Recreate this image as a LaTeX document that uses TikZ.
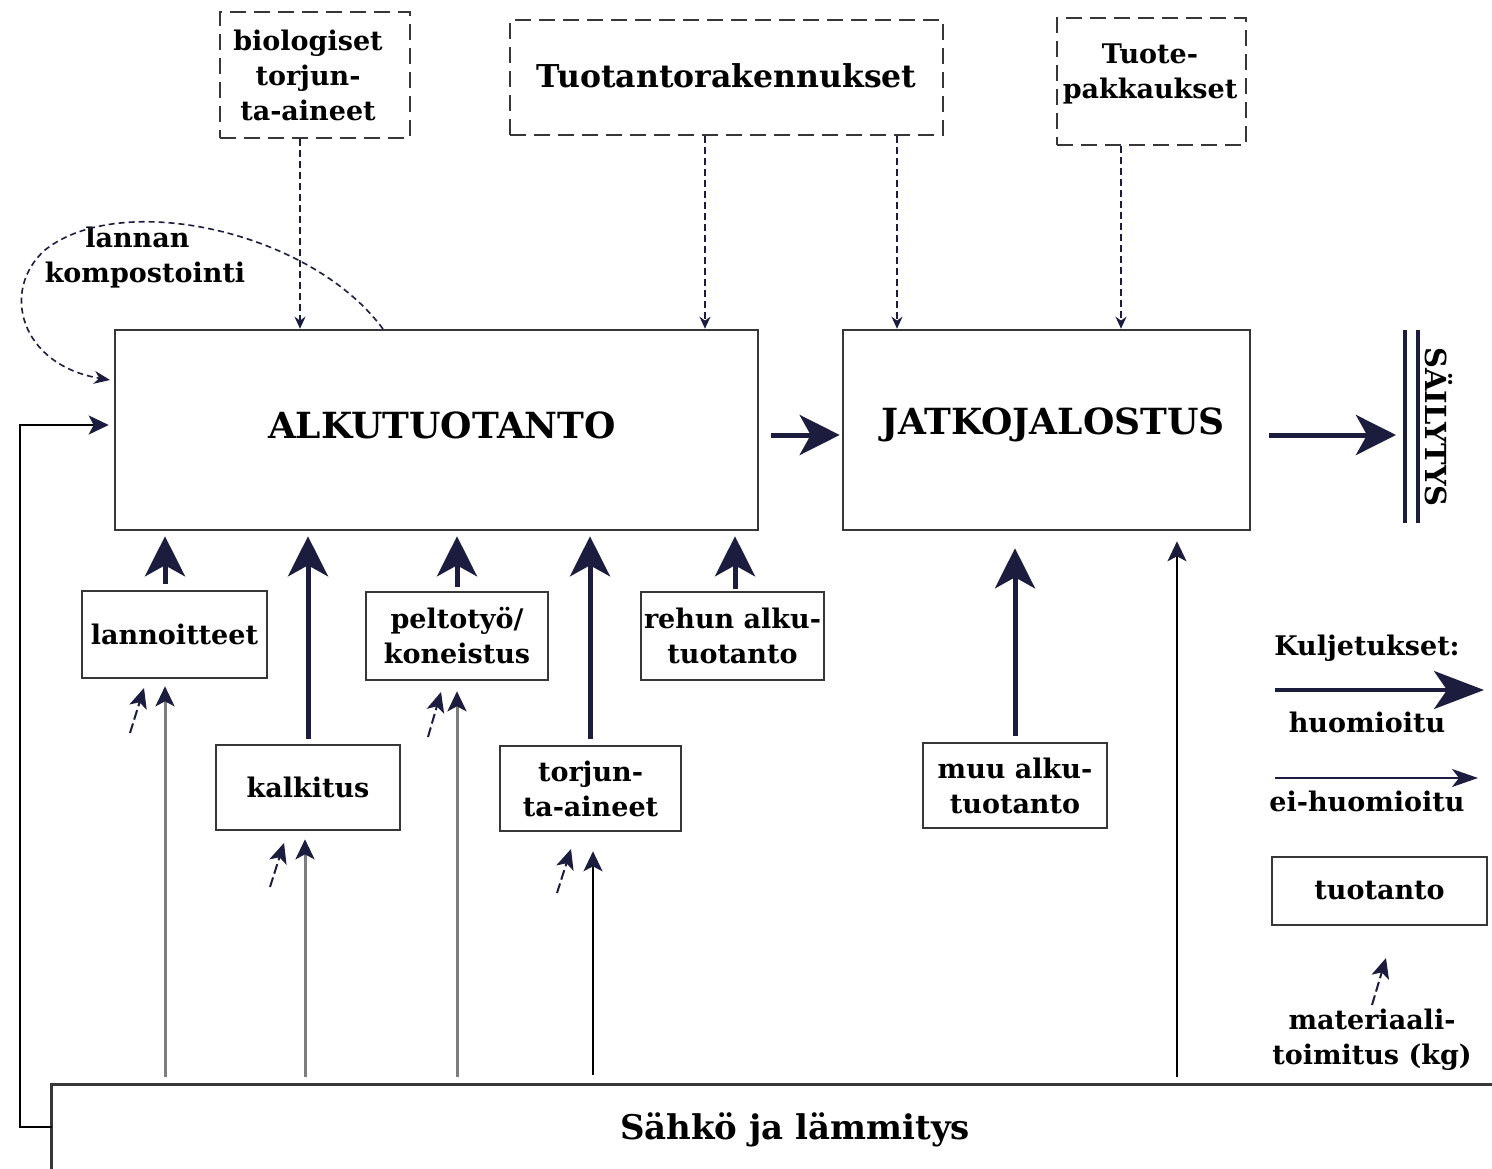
\documentclass[tikz,border=0pt]{standalone}
\usepackage{fontspec}
\setmainfont{DejaVu Serif}
\usetikzlibrary{arrows.meta,calc}
\definecolor{navy}{RGB}{28,28,62}
\definecolor{lgray}{RGB}{125,125,125}
\definecolor{bord}{RGB}{55,55,55}
\begin{document}
\begin{tikzpicture}[x=1pt,y=-1pt,
  lbl/.style={font=\fontsize{27}{35}\selectfont\bfseries, align=center, inner sep=0pt, text=black},
  biglbl/.style={font=\fontsize{36}{40}\selectfont\bfseries, inner sep=0pt},
  box/.style={draw=bord, line width=2.6pt, lbl},
  dbox/.style={box, dash pattern=on 16pt off 8pt},
  bigarrow/.style={navy, line width=5pt, -{Stealth[length=40pt,width=40pt,inset=11pt]}},
  thinarrow/.style={lgray, line width=3pt, -{Stealth[length=20pt,width=19pt,inset=5pt,color=navy]}},
  blackarrow/.style={black, line width=2.2pt, -{Stealth[length=20pt,width=19pt,inset=5pt,color=navy]}},
  dasharrow/.style={navy, line width=2pt, dash pattern=on 7pt off 4pt, -{Stealth[length=12pt,width=11pt]}},
  matarrow/.style={navy, line width=2pt, dash pattern=on 10pt off 4pt, -{Stealth[length=20pt,width=18pt,inset=5pt]}},
]
\useasboundingbox (0,0) rectangle (1492,1169);

% top dashed boxes
\node[dbox, minimum width=190pt, minimum height=126pt] (bio) at (315,75) {};
\node[lbl] (biotxt) at (308,75) {biologiset\\torjun-\\ta-aineet};
\node[dbox, minimum width=433pt, minimum height=115pt, font=\fontsize{31.5}{35}\selectfont\bfseries] (tuot) at (726.5,77.5) {\raisebox{4pt}{Tuotantorakennukset}};
\node[dbox, minimum width=189pt, minimum height=127pt] (pakk) at (1151.5,81.5) {};
\node[lbl] (pakktxt) at (1150,73.5) {Tuote-\\pakkaukset};

% main boxes
\node[box, minimum width=643pt, minimum height=200pt] (alku) at (436.5,430) {};
\node[biglbl] (alkutxt) at (442,425) {ALKUTUOTANTO};
\node[box, minimum width=407pt, minimum height=200pt] (jatko) at (1046.5,430) {};
\node[biglbl] (jatkotxt) at (1053,425) {JATKOJALOSTUS};

% sailytys
\node[font=\fontsize{29}{34}\selectfont\bfseries, rotate=-90, inner sep=0pt] (sail) at (1439,427) {SÄILYTYS};
\coordinate (bar1t) at (1405,330); \coordinate (bar1b) at (1405,523);
\coordinate (bar2t) at (1418,330); \coordinate (bar2b) at (1418,523);
\draw[navy, line width=3.5pt] (bar1t) -- (bar1b);
\draw[navy, line width=3.5pt] (bar2t) -- (bar2b);
\coordinate (sailin) at (1400,435);

% lower boxes
\node[box, minimum width=185pt, minimum height=87pt] (lann) at (174.5,634.5) {lannoitteet};
\node[box, minimum width=184pt, minimum height=85pt] (kalk) at (308,787.5) {kalkitus};
\node[box, minimum width=182pt, minimum height=88pt] (pelto) at (457,636) {peltotyö/\\koneistus};
\node[box, minimum width=181pt, minimum height=85pt] (torj) at (590.5,788.5) {torjun-\\ta-aineet};
\node[box, minimum width=183pt, minimum height=88pt] (rehu) at (732.5,636) {rehun alku-\\tuotanto};
\node[box, minimum width=184pt, minimum height=85pt] (muu) at (1015,785.5) {muu alku-\\tuotanto};

% Sahko box
\node[minimum width=1440pt, minimum height=84pt, inner sep=0pt] (sahko) at (772,1127) {};
\draw[bord, line width=2.8pt] (sahko.north east) -- (sahko.north west) -- (sahko.south west);
\node[font=\fontsize{34}{38}\selectfont\bfseries, inner sep=0pt] (sahkotxt) at (795,1130) {Sähkö ja lämmitys};

% dashed arrows from top
\coordinate (d1) at (300,0); \coordinate (d2) at (705,0); \coordinate (d3) at (897,0); \coordinate (d4) at (1121,0);
\draw[dasharrow] (bio.south -| d1) -- (d1 |- alku.north);
\draw[dasharrow] (tuot.south -| d2) -- (d2 |- alku.north);
\draw[dasharrow] (tuot.south -| d3) -- (d3 |- jatko.north);
\draw[dasharrow] (pakk.south -| d4) -- (d4 |- jatko.north);

% lannan kompostointi
\node[lbl, align=left] (komp) at (145,258) {\hspace*{1.5em}lannan\\kompostointi};
\coordinate (kstart) at (383,329);
\draw[navy, line width=1.6pt, dash pattern=on 6pt off 4pt, -{Stealth[length=16pt,width=13pt]}]
  (kstart) .. controls (310,230) and (120,190) .. (45,250)
  .. controls (0,290) and (20,365) .. (110,380);

% main flow arrows
\draw[bigarrow, shorten <=12pt, shorten >=2pt] ($(alku.east)+(0,5)$) -- ($(jatko.west)+(0,5)$);
\draw[bigarrow, shorten <=18pt, shorten >=4pt] ($(jatko.east)+(0,5)$) -- (sailin);

% thick arrows up
\coordinate (u1) at (165,0); \coordinate (u2) at (308,0); \coordinate (u3) at (457,0);
\coordinate (u4) at (590,0); \coordinate (u5) at (735,0); \coordinate (u6) at (1015,0);
\draw[bigarrow, shorten <=6pt, shorten >=5pt] (lann.north -| u1) -- (u1 |- alku.south);
\draw[bigarrow, shorten <=5pt, shorten >=5pt] (kalk.north -| u2) -- (u2 |- alku.south);
\draw[bigarrow, shorten <=4pt, shorten >=5pt] (pelto.north -| u3) -- (u3 |- alku.south);
\draw[bigarrow, shorten <=6pt, shorten >=5pt] (torj.north -| u4) -- (u4 |- alku.south);
\draw[bigarrow, shorten <=2pt, shorten >=5pt] (rehu.north -| u5) -- (u5 |- alku.south);
\draw[bigarrow, shorten <=6pt, shorten >=17pt] (muu.north -| u6) -- (u6 |- jatko.south);

% thin arrows from Sahko
\coordinate (t1) at (165,0); \coordinate (t2) at (305,0); \coordinate (t3) at (457,0);
\coordinate (t4) at (593,0); \coordinate (t5) at (1177,0);
\draw[thinarrow, shorten <=8pt, shorten >=7pt] (sahko.north -| t1) -- (t1 |- lann.south);
\draw[thinarrow, shorten <=8pt, shorten >=8pt] (sahko.north -| t2) -- (t2 |- kalk.south);
\draw[thinarrow, shorten <=8pt, shorten >=10pt] (sahko.north -| t3) -- (t3 |- pelto.south);
\draw[blackarrow, shorten <=10pt, shorten >=19pt] (sahko.north -| t4) -- (t4 |- torj.south);
\draw[blackarrow, shorten <=8pt, shorten >=10pt] (sahko.north -| t5) -- (t5 |- jatko.south);

% left return connector
\draw[blackarrow, shorten >=5pt] (sahko.west) -- ++(-32,0) |- ($(alku.west)+(0,-5)$);

% material arrows
\coordinate (m1a) at (130,733); \coordinate (m1b) at (144,688);
\coordinate (m2a) at (270,887); \coordinate (m2b) at (284,843);
\coordinate (m3a) at (428,737); \coordinate (m3b) at (441,692);
\coordinate (m4a) at (557,893); \coordinate (m4b) at (571,849);
\draw[matarrow] (m1a) -- (m1b);
\draw[matarrow] (m2a) -- (m2b);
\draw[matarrow] (m3a) -- (m3b);
\draw[matarrow] (m4a) -- (m4b);

% legend
\node[lbl] (kulj) at (1367,648) {Kuljetukset:};
\coordinate (l1a) at (1275,690); \coordinate (l1b) at (1484,690);
\draw[navy, line width=4pt, -{Stealth[length=50pt,width=38pt,inset=13pt]}] (l1a) -- (l1b);
\node[lbl] (huom) at (1367,722) {huomioitu};
\coordinate (l2a) at (1275,778); \coordinate (l2b) at (1478,778);
\draw[navy, line width=2pt, -{Stealth[length=26pt,width=18pt,inset=7pt]}] (l2a) -- (l2b);
\node[lbl] (eihuom) at (1367,801) {ei-huomioitu};
\node[box, minimum width=215pt, minimum height=68pt] (legbox) at (1379.5,891) {tuotanto};
\coordinate (l3a) at (1372,1005); \coordinate (l3b) at (1386,958);
\draw[matarrow] (l3a) -- (l3b);
\node[lbl] (mat) at (1372,1040) {materiaali-\\toimitus (kg)};
\end{tikzpicture}
\end{document}
